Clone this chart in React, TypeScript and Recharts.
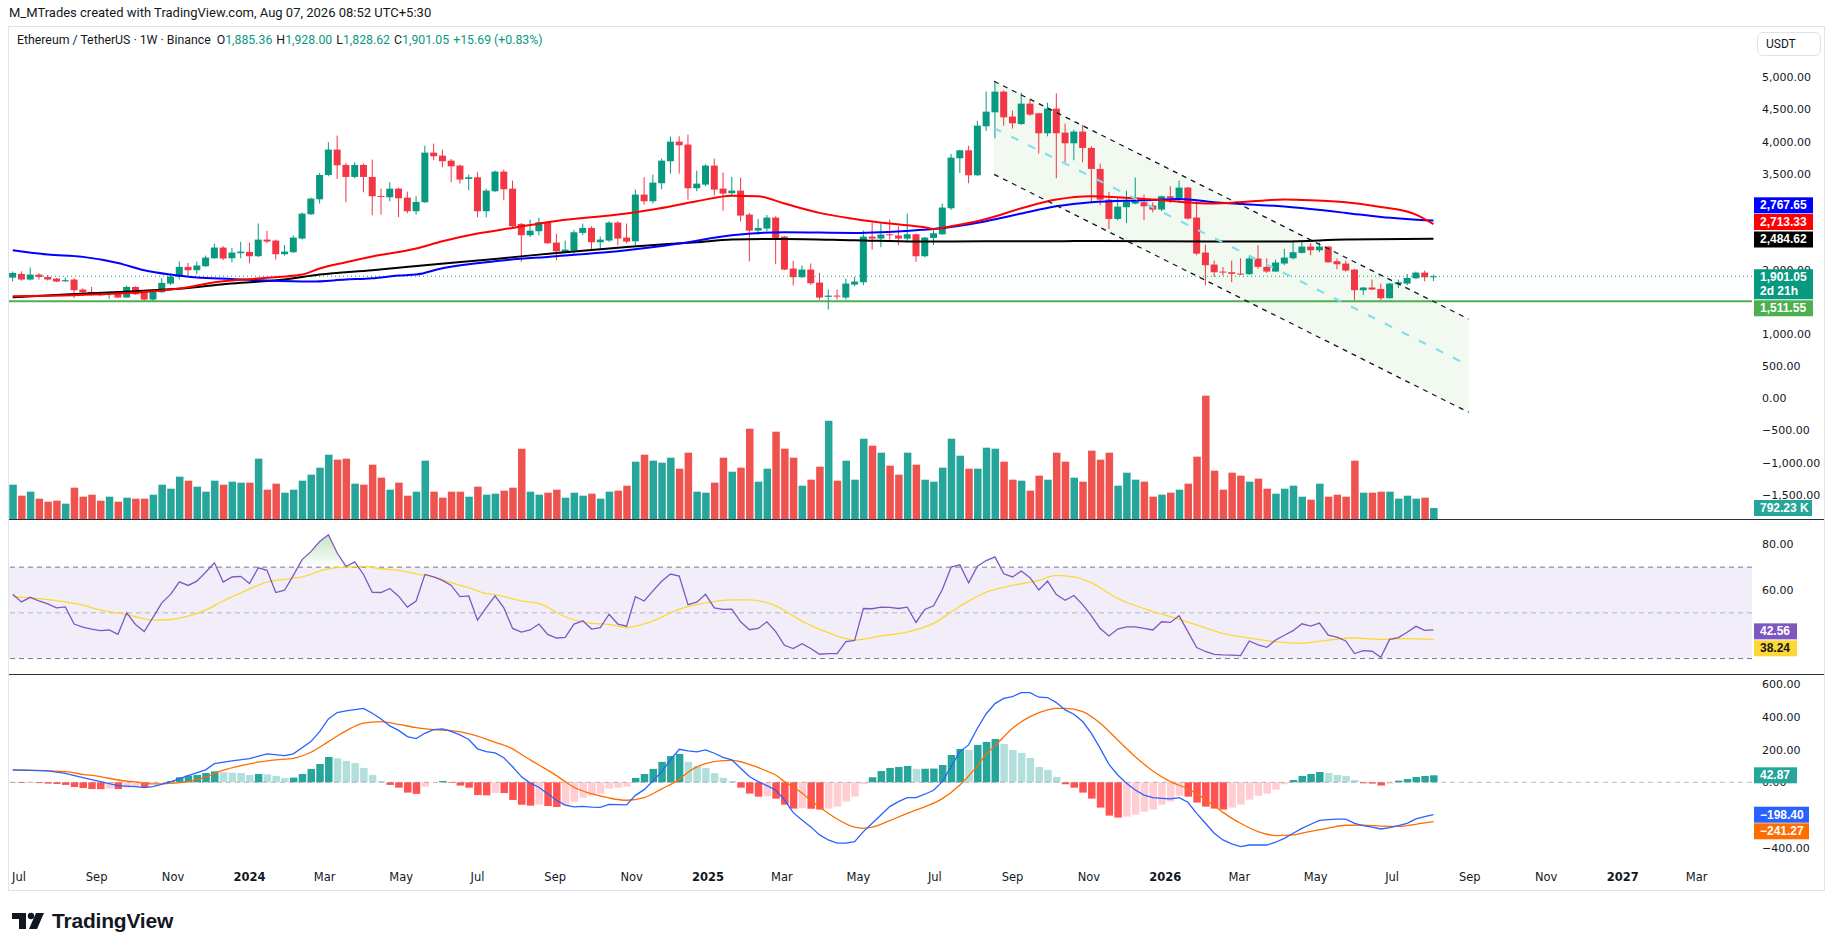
import {
  Area,
  Bar,
  Cell,
  ComposedChart,
  Line,
  ReferenceArea,
  ReferenceLine,
  XAxis,
  YAxis,
} from "recharts";

// Weekly ETH/USDT candles (Binance), index 0 = week of 26 Jun 2023.
const OPEN = [
  1880, 1938, 1850, 1927, 1891, 1865, 1822, 1850, 1694, 1657,
  1632, 1620, 1642, 1570, 1735, 1652, 1538, 1652, 1787, 1891,
  2047, 1995, 2057, 2182, 2348, 2182, 2260, 2280, 2213, 2472,
  2457, 2244, 2275, 2488, 2867, 3100, 3479, 3874, 3635, 3448,
  3635, 3448, 3152, 3131, 3266, 3126, 2914, 3054, 3827, 3780,
  3702, 3625, 3417, 3443, 2914, 3225, 3531, 3266, 2716, 2540,
  2602, 2747, 2426, 2280, 2301, 2576, 2654, 2431, 2457, 2737,
  2503, 2446, 3173, 3069, 3350, 3692, 3998, 3952, 3272, 3329,
  3625, 3266, 3194, 3235, 2862, 2612, 2644, 2815, 2519, 2021,
  1886, 2005, 1803, 1580, 1600, 1569, 1772, 1808, 2519, 2488,
  2555, 2535, 2488, 2555, 2213, 2498, 2555, 2960, 3739, 3863,
  3474, 4237, 4455, 4777, 4388, 4273, 4590, 4439, 4128, 4512,
  4138, 3972, 4154, 3900, 3573, 3095, 2794, 2976, 3033, 3054,
  3002, 2940, 3147, 3121, 3282, 2815, 2270, 2083, 1974, 1964,
  1943, 1933, 2177, 2047, 1974, 2099, 2182, 2265, 2363, 2306,
  2363, 2135, 2099, 2005, 1684, 1725, 1704, 1559, 1777, 1787,
  1870, 1958, 1885.36,
];
const HIGH = [
  1975, 1979, 2036, 1948, 1922, 1875, 1881, 1870, 1714, 1735,
  1657, 1657, 1673, 1756, 1746, 1672, 1704, 1870, 1922, 2130,
  2109, 2130, 2223, 2410, 2369, 2343, 2436, 2426, 2722, 2607,
  2472, 2389, 2535, 2893, 3126, 3510, 3988, 4092, 3666, 3676,
  3656, 3718, 3266, 3365, 3282, 3220, 3147, 3936, 3967, 3874,
  3728, 3640, 3484, 3521, 3266, 3547, 3562, 3391, 2732, 2784,
  2815, 2758, 2566, 2457, 2623, 2722, 2680, 2519, 2758, 2758,
  2722, 3251, 3443, 3484, 3734, 4076, 4081, 4107, 3547, 3645,
  3734, 3516, 3448, 3438, 2888, 2794, 2856, 2836, 2529, 2140,
  2068, 2099, 1953, 1694, 1694, 1865, 1891, 2612, 2742, 2732,
  2784, 2680, 2877, 2566, 2514, 2618, 3033, 3806, 3874, 3936,
  4320, 4777, 4943, 4798, 4481, 4761, 4647, 4450, 4605, 4751,
  4278, 4185, 4258, 3926, 3656, 3215, 3116, 3235, 3438, 3173,
  3054, 3157, 3303, 3391, 3292, 3069, 2395, 2145, 2047, 2145,
  2182, 2223, 2384, 2182, 2161, 2327, 2457, 2436, 2415, 2426,
  2374, 2177, 2145, 2016, 1735, 1850, 1787, 1798, 1850, 1938,
  1974, 1990, 1928,
];
const LOW = [
  1824, 1834, 1834, 1850, 1834, 1810, 1813, 1559, 1590, 1600,
  1590, 1549, 1559, 1564, 1611, 1517, 1517, 1642, 1766, 1850,
  1912, 1933, 2047, 2171, 2151, 2119, 2182, 2104, 2203, 2415,
  2161, 2223, 2265, 2472, 2856, 3033, 3458, 3417, 3054, 3427,
  3209, 2851, 2862, 3069, 2825, 2882, 2862, 3043, 3708, 3599,
  3365, 3344, 3240, 2820, 2820, 3215, 3085, 2638, 2125, 2509,
  2540, 2405, 2151, 2275, 2254, 2540, 2317, 2332, 2436, 2384,
  2410, 2379, 3017, 3033, 3256, 3500, 3500, 3095, 3225, 3303,
  3157, 2924, 3147, 2753, 2135, 2550, 2602, 2088, 1995, 1756,
  1876, 1766, 1538, 1383, 1538, 1538, 1746, 1761, 2317, 2353,
  2472, 2384, 2446, 2125, 2197, 2389, 2545, 2934, 3510, 3350,
  3464, 4164, 4050, 4247, 4201, 4258, 4398, 3811, 4081, 3427,
  3676, 3708, 3676, 3043, 3007, 2638, 2773, 2732, 3022, 2773,
  2898, 2914, 3043, 3054, 2784, 2228, 1761, 1891, 1912, 1808,
  1922, 1922, 2021, 1953, 1974, 2073, 2161, 2254, 2228, 2275,
  2109, 2011, 1974, 1528, 1611, 1684, 1528, 1554, 1715, 1761,
  1855, 1824, 1828.62,
];
const CLOSE = [
  1953, 1850, 1927, 1891, 1850, 1818, 1840, 1683, 1652, 1616,
  1606, 1636, 1570, 1735, 1621, 1538, 1668, 1798, 1896, 2047,
  1995, 2068, 2192, 2348, 2177, 2270, 2285, 2213, 2472, 2441,
  2244, 2285, 2503, 2877, 3111, 3479, 3874, 3630, 3448, 3635,
  3448, 3147, 3140, 3266, 3116, 2914, 3059, 3827, 3770, 3692,
  3614, 3407, 3443, 2914, 3235, 3531, 3256, 2680, 2540, 2612,
  2742, 2415, 2291, 2317, 2586, 2654, 2431, 2472, 2737, 2488,
  2441, 3173, 3069, 3360, 3702, 3998, 3941, 3272, 3344, 3625,
  3251, 3189, 3235, 2846, 2612, 2654, 2815, 2498, 2005, 1886,
  2005, 1792, 1569, 1600, 1590, 1787, 1818, 2519, 2488, 2550,
  2540, 2488, 2555, 2213, 2503, 2571, 2971, 3749, 3863, 3474,
  4247, 4465, 4777, 4377, 4284, 4590, 4419, 4128, 4512, 4128,
  3972, 4154, 3900, 3573, 3095, 2794, 2986, 3064, 3069, 2991,
  2940, 3147, 3121, 3282, 2799, 2254, 2073, 1964, 1964, 1938,
  1927, 2177, 2047, 1974, 2115, 2192, 2275, 2363, 2306, 2363,
  2119, 2088, 1990, 1684, 1725, 1694, 1559, 1787, 1808, 1875,
  1958, 1885, 1901.05,
];
// Volume in thousands of ETH.
const VOLUME_K = [
  2472, 1680, 1968, 1464, 1248, 1320, 1104, 2256, 1608, 1752,
  1320, 1608, 1248, 1536, 1464, 1464, 1752, 2472, 2184, 3048,
  2760, 2328, 1968, 2760, 2472, 2688, 2616, 2616, 4344, 2112,
  2544, 1896, 2112, 2760, 3192, 3696, 4632, 4272, 4344, 2544,
  2472, 3912, 2976, 2112, 2616, 1680, 1968, 4200, 1968, 1536,
  1968, 1968, 1608, 2328, 1752, 1824, 2040, 2256, 5064, 1968,
  1752, 1896, 2112, 1536, 1896, 1680, 1824, 1464, 1968, 2040,
  2400, 4128, 4632, 4200, 4056, 4416, 3624, 4776, 1968, 1896,
  2616, 4416, 3408, 3696, 6504, 2688, 3624, 6288, 5064, 4416,
  2400, 2832, 3768, 7080, 2760, 4200, 2832, 5784, 5280, 4776,
  3840, 3192, 4776, 3912, 2832, 2688, 3696, 5784, 4560, 3624,
  3624, 5136, 5064, 4128, 2832, 2760, 2040, 3120, 2832, 4776,
  4128, 2976, 2688, 4920, 4272, 4776, 2400, 3336, 2832, 2688,
  1608, 1752, 1896, 2112, 2544, 4488, 8880, 3480, 2112, 3336,
  3120, 2688, 2904, 2184, 1824, 2184, 2400, 1608, 1392, 2544,
  1608, 1752, 1608, 4200, 1896, 1896, 1968, 1968, 1464, 1680,
  1464, 1536, 792.23,
];
const RSI = [
  58.1, 54.8, 56.8, 55.2, 53.9, 52.2, 52.6, 45.1, 43.8, 42.9,
  42.2, 42.5, 40.6, 50.0, 44.9, 41.8, 48.0, 54.4, 58.1, 63.6,
  62.0, 63.9, 67.8, 71.9, 63.5, 65.7, 66.0, 62.8, 69.7, 68.6,
  58.9, 59.9, 66.4, 73.3, 76.8, 81.2, 84.2, 76.2, 70.3, 72.3,
  66.8, 59.0, 58.9, 60.7, 57.3, 52.5, 55.2, 66.8, 65.7, 64.2,
  62.0, 57.1, 57.4, 46.8, 52.3, 57.4, 52.2, 43.2, 41.6, 42.5,
  45.1, 40.6, 39.0, 39.3, 45.1, 46.5, 42.9, 43.5, 49.4, 45.1,
  44.2, 57.1, 55.2, 59.6, 63.8, 67.0, 66.1, 53.6, 54.7, 58.1,
  52.2, 51.5, 51.6, 46.1, 42.6, 43.2, 46.1, 41.8, 35.8, 34.4,
  36.5, 34.4, 31.9, 32.2, 32.2, 37.4, 37.9, 51.9, 51.8, 52.5,
  52.4, 51.9, 52.5, 45.8, 51.5, 53.1, 60.2, 70.0, 71.0, 63.1,
  70.4, 72.9, 74.5, 67.1, 65.7, 68.3, 65.4, 60.0, 63.9, 58.0,
  55.5, 57.6, 53.6, 48.7, 43.1, 39.9, 42.9, 43.9, 43.9, 43.2,
  42.5, 46.1, 45.8, 48.7, 41.8, 34.8, 33.1, 31.8, 31.6, 31.5,
  31.3, 37.7, 36.0, 34.9, 38.1, 40.2, 42.2, 45.2, 44.2, 45.5,
  40.2, 39.4, 37.7, 32.2, 33.5, 33.2, 30.6, 38.4, 39.2, 41.5,
  44.1, 42.3, 42.56,
];
const MACD_HIST = [
  -2, -4, -3, -5, -8, -10, -16, -29, -35, -41,
  -42, -39, -41, -33, -22, -29, -8, -2, 8, 31,
  41, 45, 57, 67, 61, 59, 57, 45, 51, 49,
  39, 27, 29, 51, 82, 112, 155, 147, 131, 118,
  88, 45, 8, -16, -33, -63, -71, -27, -2, 8,
  -4, -20, -33, -78, -80, -65, -66, -108, -137, -143,
  -137, -145, -151, -143, -120, -94, -82, -69, -39, -33,
  -27, 27, 51, 82, 125, 161, 174, 125, 100, 88,
  57, 27, 8, -33, -69, -88, -86, -100, -137, -161,
  -159, -162, -167, -161, -149, -118, -88, -12, 31, 69,
  88, 94, 100, 82, 83, 84, 106, 167, 204, 198,
  229, 247, 265, 235, 198, 180, 149, 94, 76, 33,
  -12, -33, -63, -100, -155, -204, -216, -210, -198, -180,
  -167, -137, -118, -82, -88, -124, -149, -161, -167, -155,
  -137, -106, -82, -69, -45, -12, 14, 39, 51, 63,
  57, 45, 39, 14, -6, -8, -20, -8, 10, 20,
  33, 39, 42.87,
];

const SMA_RED = [
  [0, 1590], [10, 1621], [16, 1668], [20, 1730], [23, 1808], [29, 1876],
  [33, 1927], [35, 2021], [38, 2119], [41, 2208], [46, 2332], [49, 2446],
  [53, 2566], [57, 2654], [62, 2763], [70, 2877], [73, 2940], [78, 3069],
  [82, 3157], [85, 3147], [88, 3033], [92, 2888], [96, 2794], [100, 2721],
  [104, 2664], [105, 2638], [107, 2680], [111, 2794], [115, 2960],
  [119, 3095], [123, 3147], [129, 3106], [137, 3033], [145, 3095],
  [148, 3085], [152, 3054], [156, 2981], [160, 2862], [162, 2713.33],
];
const SMA_BLUE = [
  [0, 2306], [4, 2239], [8, 2203], [12, 2109], [15, 1995], [18, 1927],
  [21, 1881], [25, 1860], [29, 1834], [34, 1818], [38, 1850], [41, 1870],
  [44, 1912], [46, 1927], [49, 2026], [55, 2135], [62, 2213], [70, 2306],
  [76, 2410], [82, 2540], [88, 2587], [96, 2576], [103, 2618], [105, 2638],
  [111, 2758], [115, 2877], [119, 2991], [123, 3054], [129, 3085],
  [133, 3106], [137, 3054], [145, 2986], [152, 2888], [156, 2825],
  [162, 2767.65],
];
const SMA_BLACK = [
  [0, 1575], [6, 1616], [14, 1668], [20, 1720], [25, 1787], [31, 1850],
  [35, 1927], [41, 1995], [47, 2073], [55, 2171], [62, 2265], [70, 2358],
  [78, 2431], [82, 2472], [88, 2483], [96, 2462], [103, 2441], [111, 2446],
  [119, 2446], [123, 2452], [137, 2441], [145, 2441], [152, 2472],
  [162, 2484.62],
];
const RSI_MA = [
  [0, 57.1], [4, 55.8], [6, 54.8], [8, 53.4], [10, 51.2], [12, 49.9],
  [14, 48.3], [16, 46.8], [18, 47.1], [20, 48.6], [22, 51.2], [24, 55.2],
  [26, 58.7], [29, 63.5], [31, 64.7], [33, 65.7], [35, 68.3], [36, 69.3],
  [38, 70.0], [40, 70.3], [42, 69.3], [44, 68.6], [46, 67.1], [48, 65.7],
  [50, 63.2], [52, 61.0], [54, 58.4], [55, 58.0], [58, 55.2], [60, 54.1],
  [63, 48.3], [66, 45.4], [68, 45.0], [70, 43.6], [73, 46.5], [76, 51.6],
  [79, 54.4], [82, 55.7], [84, 55.7], [87, 53.1], [90, 46.4], [93, 41.3],
  [96, 38.1], [99, 39.9], [102, 41.6], [105, 45.4], [108, 52.9], [111, 59.1],
  [114, 62.0], [117, 64.2], [119, 66.4], [121, 65.7], [123, 63.1],
  [126, 56.3], [129, 51.9], [132, 48.3], [135, 44.7], [138, 41.0],
  [141, 38.9], [144, 37.4], [147, 36.7], [150, 38.1], [153, 39.0],
  [156, 38.4], [159, 38.7], [162, 38.24],
];
const MACD_LINE = [
  [0, 76], [4, 70], [6, 55], [8, 29], [10, 4], [12, -20], [14, -27], [15, -33],
  [16, -27], [18, 2], [20, 41], [22, 76], [23, 114], [25, 131], [27, 145],
  [29, 174], [31, 163], [32, 174], [34, 249], [35, 310], [36, 388], [37, 427],
  [38, 437], [40, 453], [41, 423], [42, 388], [43, 345], [44, 318], [45, 280],
  [46, 268], [47, 300], [48, 322], [49, 327], [50, 312], [51, 290], [52, 262],
  [53, 205], [54, 188], [55, 180], [56, 150], [57, 95], [58, 35], [59, -5],
  [60, -30], [61, -70], [62, -110], [63, -140], [64, -150], [65, -148],
  [66, -152], [67, -153], [68, -135], [69, -137], [70, -138], [71, -80],
  [72, -45], [73, 8], [74, 65], [75, 137], [76, 202], [77, 192], [78, 186],
  [79, 198], [80, 178], [81, 153], [82, 137], [83, 86], [84, 35], [85, 4],
  [86, -20], [87, -47], [88, -108], [89, -186], [90, -231], [91, -273],
  [92, -322], [93, -353], [94, -373], [95, -373], [96, -363], [97, -302],
  [98, -251], [99, -200], [100, -149], [101, -118], [102, -94], [103, -94],
  [104, -73], [105, -49], [106, 4], [107, 96], [108, 188], [109, 229],
  [110, 331], [111, 420], [112, 482], [113, 514], [114, 525], [115, 549],
  [116, 549], [117, 521], [118, 519], [119, 488], [120, 443], [121, 417],
  [122, 372], [123, 300], [124, 208], [125, 110], [126, 45], [127, -6],
  [128, -47], [129, -78], [130, -94], [131, -98], [132, -102], [133, -94],
  [134, -122], [135, -190], [136, -251], [137, -312], [138, -353],
  [139, -377], [140, -394], [141, -384], [142, -384], [143, -384],
  [144, -367], [145, -343], [146, -312], [147, -282], [148, -257],
  [149, -233], [150, -228], [151, -226], [152, -226], [153, -251],
  [154, -265], [155, -275], [156, -286], [157, -277], [158, -265],
  [159, -251], [160, -224], [161, -210], [162, -198.4],
];
const MACD_SIGNAL = [
  [0, 76], [6, 65], [8, 49], [10, 35], [12, 14], [14, 2], [16, -10], [18, -6],
  [20, 4], [22, 31], [24, 74], [26, 102], [28, 123], [30, 137], [32, 147],
  [34, 184], [36, 249], [38, 315], [40, 362], [42, 372], [44, 355], [46, 335],
  [48, 323], [50, 316], [52, 298], [54, 265], [55, 245], [57, 205], [58, 170],
  [60, 106], [62, 41], [63, 4], [64, -30], [66, -70], [68, -96], [70, -110],
  [72, -94], [74, -40], [76, 18], [77, 62], [79, 114], [81, 133], [82, 134],
  [84, 110], [86, 68], [87, 45], [88, 4], [90, -66], [91, -112], [93, -190],
  [94, -225], [96, -275], [97, -282], [98, -275], [100, -235], [102, -190],
  [104, -150], [106, -100], [108, -16], [110, 100], [111, 173], [112, 223],
  [114, 331], [116, 402], [118, 443], [119, 453], [120, 453], [122, 433],
  [124, 362], [126, 259], [128, 157], [130, 69], [132, 4], [134, -40],
  [136, -105], [138, -184], [140, -251], [142, -302], [144, -326],
  [146, -322], [148, -300], [150, -280], [152, -263], [154, -262],
  [156, -268], [158, -270], [160, -257], [162, -241.27],
];

// Falling channel drawn from the Aug 2025 top.
const CHANNEL_X = [111.9, 166];
const CHANNEL_UPPER = [4938, 1235];
const CHANNEL_MID = [4210, 514];
const CHANNEL_LOWER = [3489, -218];
const SUPPORT = 1511.55;
const LAST_PRICE = 1901.05;

// Time axis: first day of each labelled month, in weeks since 26 Jun 2023.
const MONTH_TICKS = [
  0.714, 9.571, 18.286, 27, 35.571, 44.286, 53, 61.857, 70.571, 79.286, 87.714,
  96.429, 105.143, 114, 122.714, 131.429, 139.857, 148.571, 157.286, 166.143,
  174.857, 183.571, 192,
];
const MONTH_LABELS = [
  "Jul", "Sep", "Nov", "2024", "Mar", "May", "Jul", "Sep", "Nov", "2025", "Mar",
  "May", "Jul", "Sep", "Nov", "2026", "Mar", "May", "Jul", "Sep", "Nov", "2027",
  "Mar",
];
const PRICE_TICKS = [5000, 4500, 4000, 3500, 1000, 500, 0, -500, -1000, -1500];
const RSI_TICKS = [80, 60];
const MACD_TICKS = [600, 400, 200, -400];

const UP = "#089981";
const DOWN = "#f23645";
const INK = "#131722";
const AXIS_FONT = "'DejaVu Sans', sans-serif";
const TAG_FONT = "'Liberation Sans', Arial, sans-serif";
const UI_FONT = "Roboto, 'Liberation Sans', sans-serif";

const CHART_W = 1815;
const AXIS_W = 72;
const CANDLE_W = 7;
const X_DOMAIN = [-0.422, 198.32];
const NO_MARGIN = { top: 0, right: 0, bottom: 0, left: 0 };

const rows = OPEN.map((o, i) => ({
  i,
  o,
  h: HIGH[i],
  l: LOW[i],
  c: CLOSE[i],
  v: VOLUME_K[i],
  rsi: RSI[i],
  hist: MACD_HIST[i],
}));

const pairs = (list: number[][]) => list.map(([i, v]) => ({ i, v }));

const channelBand = CHANNEL_X.map((i, k) => ({ i, band: [CHANNEL_LOWER[k], CHANNEL_UPPER[k]] }));
const seg = (ys: number[]) => CHANNEL_X.map((x, k) => ({ x, y: ys[k] }));

// overbought shading above 70
const overbought = RSI.map((v, i) => {
  const hot = v > 70 || (RSI[i - 1] ?? 0) > 70 || (RSI[i + 1] ?? 0) > 70;
  return { i, ob: hot ? [70, Math.max(v, 70)] : null };
});

function histColor(v: number, prev: number | undefined) {
  const p = prev ?? 0;
  if (v >= 0) return v >= p ? "#26a69a" : "#b2dfdb";
  return v <= p ? "#ff5252" : "#ffcdd2";
}

const fmt2 = (v: number) =>
  v.toLocaleString("en-US", { minimumFractionDigits: 2, maximumFractionDigits: 2 }).replace("-", "\u2212");

function ValueTick(props: any) {
  const { x, y, payload } = props;
  return (
    <text x={x + 2} y={y + 4} fontSize={11} fontFamily={AXIS_FONT} fill={INK} textAnchor="start">
      {fmt2(payload.value)}
    </text>
  );
}

/** Scale label that sits under a price tag, drawn as a reference-line label so the tag can cover it. */
function HiddenTick(props: any) {
  const { viewBox, value } = props;
  if (!viewBox) return null;
  return (
    <text x={viewBox.x + viewBox.width + 10} y={viewBox.y + 4} fontSize={11} fontFamily={AXIS_FONT} fill={INK}>
      {fmt2(value)}
    </text>
  );
}

function TimeTick(props: any) {
  const { x, y, payload } = props;
  const label = MONTH_LABELS[MONTH_TICKS.indexOf(payload.value)] ?? "";
  const year = /^\d{4}$/.test(label);
  return (
    <text
      x={x}
      y={y + 11}
      textAnchor="middle"
      fontSize={11.5}
      fontWeight={year ? 700 : 400}
      fontFamily={AXIS_FONT}
      fill={INK}
    >
      {label}
    </text>
  );
}

/** Coloured price tag in the right-hand scale. */
function Tag(props: any) {
  const { viewBox, text, sub, bg, fg = "#ffffff", dy = 0, w = 59 } = props;
  if (!viewBox) return null;
  const left = viewBox.x + viewBox.width + 2;
  const cy = viewBox.y + dy;
  const h = sub ? 30 : 16;
  const top = sub ? cy - 7 : cy - 8;
  return (
    <g>
      <rect x={left} y={top} width={w} height={h} fill={bg} />
      <text x={left + 6} y={top + 12} fill={fg} fontSize={12} fontWeight={700} fontFamily={TAG_FONT}>
        {text}
      </text>
      {sub ? (
        <text x={left + 6} y={top + 26} fill={fg} fontSize={12} fontWeight={700} fontFamily={TAG_FONT}>
          {sub}
        </text>
      ) : null}
    </g>
  );
}

function Candle(props: any) {
  const { x, y, width, height, payload } = props;
  if (!payload || height == null) return null;
  const { o, h, l, c } = payload;
  const color = c >= o ? UP : DOWN;
  const top = Math.min(y, y + height);
  const full = Math.abs(height);
  const span = h - l || 1;
  const py = (v: number) => top + ((h - v) / span) * full;
  const bodyTop = py(Math.max(o, c));
  const bodyBot = py(Math.min(o, c));
  const cx = x + width / 2;
  return (
    <g>
      <line x1={cx} x2={cx} y1={top} y2={top + full} stroke={color} strokeWidth={1} />
      <rect
        x={cx - CANDLE_W / 2}
        y={bodyTop}
        width={CANDLE_W}
        height={Math.max(1, bodyBot - bodyTop)}
        fill={color}
      />
    </g>
  );
}

function TvLogo() {
  return (
    <div style={{ position: "absolute", left: 12, top: 909, display: "flex", alignItems: "center", gap: 6 }}>
      <svg width={34} height={20} viewBox="0 0 34 20">
        <path d="M0 2h14v16H7V8H0z" fill={INK} />
        <circle cx={19} cy={5} r={3.2} fill={INK} />
        <path d="M24 2h8l-7 16h-8z" fill={INK} />
      </svg>
      <span style={{ fontFamily: TAG_FONT, fontWeight: 700, fontSize: 21, color: INK, letterSpacing: -0.2 }}>
        TradingView
      </span>
    </div>
  );
}

const legendGap = { marginLeft: 4 };

export default function App() {
  return (
    <div
      style={{
        position: "relative",
        width: 1835,
        height: 951,
        background: "#ffffff",
        overflow: "hidden",
        fontFamily: UI_FONT,
        color: INK,
      }}
    >
      <style>{"body{margin:0}"}</style>

      <div style={{ position: "absolute", left: 9, top: 5, fontSize: 13, whiteSpace: "pre" }}>
        M_MTrades created with TradingView.com, Aug 07, 2026 08:52 UTC+5:30
      </div>

      <div
        style={{
          position: "absolute",
          left: 8,
          top: 26,
          width: 1817,
          height: 865,
          border: "1px solid #e0e3eb",
          boxSizing: "border-box",
        }}
      />

      {/* price pane with volume */}
      <div style={{ position: "absolute", left: 9, top: 28 }}>
        <ComposedChart width={CHART_W} height={491} data={rows} margin={NO_MARGIN}>
          <XAxis xAxisId="p" dataKey="i" type="number" domain={X_DOMAIN} hide allowDataOverflow />
          <XAxis xAxisId="v" dataKey="i" type="number" domain={X_DOMAIN} hide allowDataOverflow />
          <YAxis
            yAxisId="p"
            orientation="right"
            width={AXIS_W}
            domain={[-1880, 5768]}
            ticks={PRICE_TICKS}
            interval={0}
            axisLine={false}
            tickLine={false}
            tick={<ValueTick />}
            allowDataOverflow
          />
          <YAxis yAxisId="v" hide domain={[0, 35352]} allowDataOverflow />

          <Bar xAxisId="v" yAxisId="v" dataKey="v" barSize={7.5} isAnimationActive={false}>
            {rows.map((r) => (
              <Cell key={r.i} fill={r.c >= r.o ? "#26a69a" : "#ef5350"} />
            ))}
          </Bar>

          <Area
            xAxisId="p"
            yAxisId="p"
            data={channelBand}
            dataKey="band"
            type="linear"
            stroke="none"
            fill="#4caf50"
            fillOpacity={0.08}
            isAnimationActive={false}
          />

          <ReferenceLine xAxisId="p" yAxisId="p" y={SUPPORT} stroke="#4caf50" strokeWidth={2} />
          <ReferenceLine xAxisId="p" yAxisId="p" y={LAST_PRICE} stroke={UP} strokeDasharray="1 3" />

          <Line xAxisId="p" yAxisId="p" data={pairs(SMA_BLACK)} dataKey="v" type="monotone" stroke="#000000" strokeWidth={2} dot={false} isAnimationActive={false} />
          <Line xAxisId="p" yAxisId="p" data={pairs(SMA_BLUE)} dataKey="v" type="monotone" stroke="#0000ff" strokeWidth={2} dot={false} isAnimationActive={false} />
          <Line xAxisId="p" yAxisId="p" data={pairs(SMA_RED)} dataKey="v" type="monotone" stroke="#ff0000" strokeWidth={2} dot={false} isAnimationActive={false} />

          <Bar
            xAxisId="p"
            yAxisId="p"
            dataKey={(d: any) => [d.l, d.h]}
            barSize={7}
            shape={(p: any) => <Candle {...p} />}
            isAnimationActive={false}
          />

          <ReferenceLine xAxisId="p" yAxisId="p" segment={seg(CHANNEL_UPPER)} stroke="#131722" strokeWidth={1.3} strokeDasharray="5 5" />
          <ReferenceLine xAxisId="p" yAxisId="p" segment={seg(CHANNEL_LOWER)} stroke="#131722" strokeWidth={1.3} strokeDasharray="5 5" />
          <ReferenceLine xAxisId="p" yAxisId="p" segment={seg(CHANNEL_MID)} stroke="#80deea" strokeWidth={2} strokeDasharray="8 11" />

          <ReferenceLine xAxisId="p" yAxisId="p" y={2000} stroke="none" label={<HiddenTick value={2000} />} />
          <ReferenceLine xAxisId="p" yAxisId="p" y={2767.65} stroke="none" label={<Tag text="2,767.65" bg="#0000ff" dy={-15.3} />} />
          <ReferenceLine xAxisId="p" yAxisId="p" y={2713.33} stroke="none" label={<Tag text="2,713.33" bg="#ff0000" dy={-2.1} />} />
          <ReferenceLine xAxisId="p" yAxisId="p" y={2484.62} stroke="none" label={<Tag text="2,484.62" bg="#000000" dy={0.7} />} />
          <ReferenceLine xAxisId="p" yAxisId="p" y={LAST_PRICE} stroke="none" label={<Tag text="1,901.05" sub="2d 21h" bg={UP} />} />
          <ReferenceLine xAxisId="p" yAxisId="p" y={SUPPORT} stroke="none" label={<Tag text="1,511.55" bg="#4caf50" dy={7} />} />
          <ReferenceLine xAxisId="v" yAxisId="v" y={792.23} stroke="none" label={<Tag text="792.23 K" bg="#26a69a" w={58} />} />
        </ComposedChart>
      </div>

      {/* RSI pane */}
      <div style={{ position: "absolute", left: 9, top: 520 }}>
        <ComposedChart width={CHART_W} height={154} data={rows} margin={NO_MARGIN}>
          <defs>
            <linearGradient id="obFill" x1="0" y1="0" x2="0" y2="1">
              <stop offset="0" stopColor="#4caf50" stopOpacity={0.55} />
              <stop offset="1" stopColor="#4caf50" stopOpacity={0.02} />
            </linearGradient>
          </defs>
          <XAxis dataKey="i" type="number" domain={X_DOMAIN} hide allowDataOverflow />
          <YAxis
            orientation="right"
            width={AXIS_W}
            domain={[23.24, 90.64]}
            ticks={RSI_TICKS}
            interval={0}
            axisLine={false}
            tickLine={false}
            tick={<ValueTick />}
            allowDataOverflow
          />
          <ReferenceArea y1={30} y2={70} fill="#7e57c2" fillOpacity={0.1} stroke="none" />
          <ReferenceLine y={70} stroke="#787b86" strokeDasharray="5 4" />
          <ReferenceLine y={50} stroke="#787b86" strokeOpacity={0.5} strokeDasharray="5 4" />
          <ReferenceLine y={30} stroke="#787b86" strokeDasharray="5 4" />
          <Area data={overbought} dataKey="ob" type="linear" stroke="none" fill="url(#obFill)" isAnimationActive={false} />
          <Line data={pairs(RSI_MA)} dataKey="v" type="monotone" stroke="#fdd835" strokeWidth={1.3} dot={false} isAnimationActive={false} />
          <Line dataKey="rsi" type="linear" stroke="#7e57c2" strokeWidth={1.3} dot={false} isAnimationActive={false} />
          <ReferenceLine y={42.56} stroke="none" label={<Tag text="42.56" bg="#7e57c2" dy={1.5} w={43} />} />
          <ReferenceLine y={38.24} stroke="none" label={<Tag text="38.24" bg="#fdd835" fg={INK} dy={8.6} w={43} />} />
        </ComposedChart>
      </div>

      {/* MACD pane + time axis */}
      <div style={{ position: "absolute", left: 9, top: 675 }}>
        <ComposedChart width={CHART_W} height={215} data={rows} margin={NO_MARGIN}>
          <XAxis
            dataKey="i"
            type="number"
            domain={X_DOMAIN}
            ticks={MONTH_TICKS}
            interval={0}
            axisLine={false}
            tickLine={false}
            height={28}
            tick={<TimeTick />}
            allowDataOverflow
          />
          <YAxis
            orientation="right"
            width={AXIS_W}
            domain={[-488, 657]}
            ticks={MACD_TICKS}
            interval={0}
            axisLine={false}
            tickLine={false}
            tick={<ValueTick />}
            allowDataOverflow
          />
          <ReferenceLine y={0} stroke="#787b86" strokeOpacity={0.5} strokeDasharray="5 4" label={<HiddenTick value={0} />} />
          <Bar dataKey="hist" barSize={7.5} isAnimationActive={false}>
            {rows.map((r, k) => (
              <Cell key={r.i} fill={histColor(r.hist, MACD_HIST[k - 1])} />
            ))}
          </Bar>
          <Line data={pairs(MACD_SIGNAL)} dataKey="v" type="monotone" stroke="#ff6d00" strokeWidth={1.3} dot={false} isAnimationActive={false} />
          <Line data={pairs(MACD_LINE)} dataKey="v" type="linear" stroke="#2962ff" strokeWidth={1.3} dot={false} isAnimationActive={false} />
          <ReferenceLine y={42.87} stroke="none" label={<Tag text="42.87" bg="#26a69a" w={43} />} />
          <ReferenceLine y={-198.4} stroke="none" label={<Tag text={"\u2212198.40"} bg="#2962ff" w={55} />} />
          <ReferenceLine y={-241.27} stroke="none" label={<Tag text={"\u2212241.27"} bg="#ff6d00" dy={9.6} w={55} />} />
        </ComposedChart>
      </div>

      {/* pane separators */}
      <div style={{ position: "absolute", left: 9, top: 519, width: 1815, height: 1, background: "#2a2e39" }} />
      <div style={{ position: "absolute", left: 9, top: 674, width: 1815, height: 1, background: "#2a2e39" }} />

      {/* legend line */}
      <div style={{ position: "absolute", left: 17, top: 33, fontSize: 12.3, whiteSpace: "pre" }}>
        <span>{"Ethereum / TetherUS \u00b7 1W \u00b7 Binance"}</span>
        <span style={{ marginLeft: 6 }}>O</span>
        <span style={{ color: UP }}>1,885.36</span>
        <span style={legendGap}>H</span>
        <span style={{ color: UP }}>1,928.00</span>
        <span style={legendGap}>L</span>
        <span style={{ color: UP }}>1,828.62</span>
        <span style={legendGap}>C</span>
        <span style={{ color: UP }}>1,901.05</span>
        <span style={{ ...legendGap, color: UP }}>+15.69 (+0.83%)</span>
      </div>

      <div
        style={{
          position: "absolute",
          left: 1757,
          top: 32,
          width: 64,
          height: 24,
          border: "1px solid #e0e3eb",
          borderRadius: 6,
          boxSizing: "border-box",
          fontSize: 12,
          lineHeight: "22px",
          paddingLeft: 8,
        }}
      >
        USDT
      </div>

      <TvLogo />
    </div>
  );
}
